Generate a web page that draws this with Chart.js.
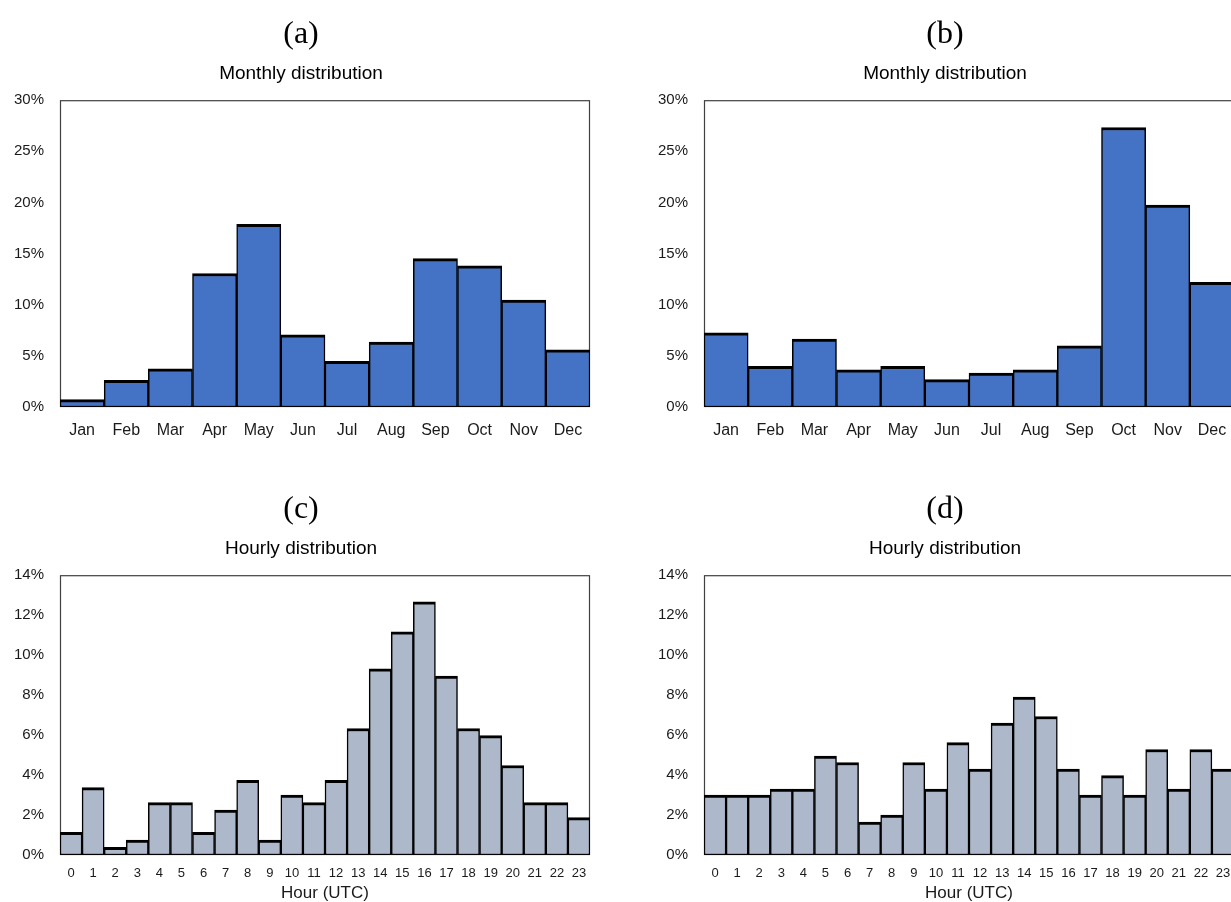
<!DOCTYPE html>
<html>
<head>
<meta charset="utf-8">
<script src="https://cdn.jsdelivr.net/npm/chart.js@4.4.1/dist/chart.umd.min.js"></script>
<style>
  html, body { margin: 0; padding: 0; background: #fff; overflow: hidden; width: 1231px; height: 902px; }
  canvas { position: absolute; }
</style>
</head>
<body>
<canvas id="chartA" width="600" height="450" style="left:0;top:0"></canvas>
<canvas id="chartB" width="620" height="450" style="left:624px;top:0"></canvas>
<canvas id="chartC" width="600" height="427" style="left:0;top:475px"></canvas>
<canvas id="chartD" width="620" height="427" style="left:624px;top:475px"></canvas>
<script>
const months = ['Jan', 'Feb', 'Mar', 'Apr', 'May', 'Jun', 'Jul', 'Aug', 'Sep', 'Oct', 'Nov', 'Dec'];
const monthlyA = [0.72, 2.6, 3.74, 13.05, 17.87, 7.06, 4.46, 6.35, 14.51, 13.8, 10.45, 5.6];
const monthlyB = [7.26, 3.97, 6.64, 3.64, 3.97, 2.67, 3.32, 3.64, 5.99, 27.33, 19.75, 12.2];

const hours = ['0', '1', '2', '3', '4', '5', '6', '7', '8', '9', '10', '11',
  '12', '13', '14', '15', '16', '17', '18', '19', '20', '21', '22', '23'];
const hourlyC = [1.13, 3.37, 0.38, 0.75, 2.62, 2.62, 1.13, 2.25, 3.73, 0.75, 3.0, 2.62,
  3.73, 6.33, 9.32, 11.17, 12.67, 8.95, 6.33, 5.97, 4.48, 2.62, 2.62, 1.87];
const hourlyD = [3.0, 3.0, 3.0, 3.3, 3.3, 4.95, 4.63, 1.65, 2.0, 4.63, 3.3, 5.62,
  4.3, 6.6, 7.9, 6.93, 4.3, 3.0, 3.97, 3.0, 5.28, 3.3, 5.28, 4.3];

const textColor = '#1a1a1a';

// box round the plot area
const plotBorder = {
  id: 'plotBorder',
  beforeDatasetsDraw(chart) {
    const { ctx, chartArea: a } = chart;
    ctx.save();
    ctx.strokeStyle = '#404040';
    ctx.lineWidth = 1.2;
    ctx.strokeRect(a.left + 0.5, a.top + 0.5, a.right - a.left - 1, a.bottom - a.top - 1);
    ctx.restore();
  }
};

function makeChart(id, panel, subtitle, labels, values, color, yMax, yStep, hourly, padLeft) {
  const ctx = document.getElementById(id).getContext('2d');
  new Chart(ctx, {
    type: 'bar',
    data: {
      labels: labels,
      datasets: [{
        data: values,
        backgroundColor: color,
        borderColor: '#000',
        borderWidth: { top: 3, left: 1.5, right: 1.5, bottom: 1.5 },
        borderSkipped: false,
        barPercentage: 1,
        categoryPercentage: 1
      }]
    },
    options: {
      responsive: false,
      animation: false,
      layout: { padding: { left: padLeft, right: 10, top: 0, bottom: 0 } },
      plugins: {
        legend: { display: false },
        tooltip: { enabled: false },
        title: {
          display: true,
          text: panel,
          color: '#000',
          font: { family: 'Liberation Serif', size: 32, weight: 'normal' },
          padding: { top: 15, bottom: 5 }
        },
        subtitle: {
          display: true,
          text: subtitle,
          color: '#000',
          font: { family: 'Liberation Sans', size: 19 },
          padding: { top: 4, bottom: 15 }
        }
      },
      scales: {
        x: {
          grid: { display: false },
          border: { display: false },
          ticks: {
            color: textColor,
            font: { family: 'Liberation Sans', size: hourly ? 13 : 16 },
            padding: hourly ? 3 : 6,
            maxRotation: 0,
            autoSkip: false
          },
          title: {
            display: hourly,
            text: 'Hour (UTC)',
            color: textColor,
            font: { family: 'Liberation Sans', size: 17 },
            padding: { top: 0, bottom: -2 }
          },
          afterFit(scale) { scale.height = hourly ? 47 : 43; }
        },
        y: {
          min: 0,
          max: yMax,
          grid: { display: false },
          border: { display: false },
          ticks: {
            stepSize: yStep,
            color: textColor,
            font: { family: 'Liberation Sans', size: 15 },
            padding: 8,
            callback: v => v + '%'
          },
          afterFit(scale) { scale.width = 48; }
        }
      }
    },
    plugins: [plotBorder]
  });
}

makeChart('chartA', '(a)', 'Monthly distribution', months, monthlyA, '#4472C4', 30, 5, false, 12);
makeChart('chartB', '(b)', 'Monthly distribution', months, monthlyB, '#4472C4', 30, 5, false, 32);
makeChart('chartC', '(c)', 'Hourly distribution', hours, hourlyC, '#ADB9CA', 14, 2, true, 12);
makeChart('chartD', '(d)', 'Hourly distribution', hours, hourlyD, '#ADB9CA', 14, 2, true, 32);
</script>
</body>
</html>
